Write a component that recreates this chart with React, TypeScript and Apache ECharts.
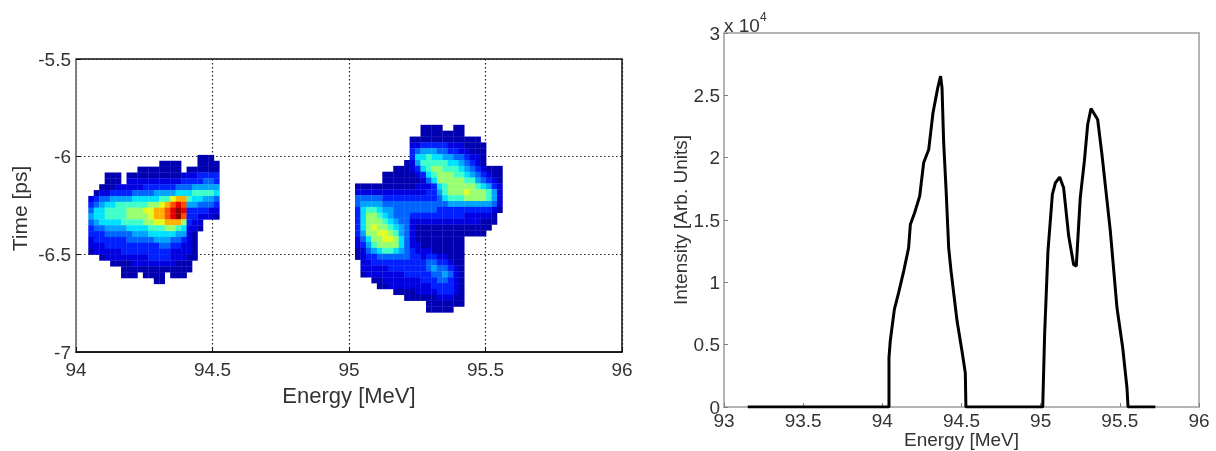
import React, { useEffect, useRef } from "react";
import * as echarts from "echarts";

const palette = ["#0000b0", "#0000e0", "#0020ff", "#0064ff", "#00a4ff", "#00e0ff", "#40ffc8", "#98ff70", "#e0ff20", "#ffb000", "#ff5000", "#e80000", "#900000"];

const blobAStartX = 94.055;
const blobAStartY = -6.006;
const blobARows = [
  "....................111.",
  ".............1111...1111",
  ".........11111111.111111",
  "...111.11111111112223333",
  "...111.22222222223333443",
  "..1112222233333344455555",
  ".12233334444555566677776",
  "234455556666677" + "9aa" + "766554",
  "34566777777889" + "abcb" + "554443",
  "466777788899" + "aabcdc" + "333322",
  "566777788889" + "aabcdb" + "332221",
  "456666777788" + "99aaa8" + "322...",
  "344555566667" + "778876" + "221...",
  "333444445556" + "666655" + "21....",
  "233333344444" + "555443" + "21....",
  "222333333333" + "344332" + "21....",
  "122222333333" + "333222" + "21....",
  "..122222222333322211....",
  "....111122222222111.....",
  "......1111111111111.....",
  "......111.1111.111......",
  "............11..........",
];

const blobBStartX = 95.032;
const blobBStartY = -5.852;
const blobBRows = [
  "............1111..11.......",
  "............11111111.......",
  "..........1111111111111....",
  "..........22333332221111...",
  "..........34555443322111...",
  "..........36676655443221...",
  ".........125777776654321...",
  ".......11123678877765432111",
  ".....1111112367888776543211",
  ".....1111111246888887754321",
  "1111111111122" + "23678888876532",
  "2222222222222" + "33578889888752",
  "4444433333333" + "33467778888752",
  "4555544444444" + "44445555555542",
  "3677655444444" + "44333333333321",
  "3688765444333" + "3333333222221.",
  "3688876544222" + "2222222222111.",
  "3689887654211" + "111111111111..",
  "3588998754211" + "11111111111...",
  "24688998642" + "111111111" + ".......",
  "23578888642" + "211111111" + ".......",
  "12456776543" + "222111111" + ".......",
  "12334444443" + "323322111" + ".......",
  ".2233333333" + "334433211" + ".......",
  ".2222233333" + "334544321" + ".......",
  ".1222222233" + "333445421" + ".......",
  "...11222222" + "233344321" + ".......",
  "....1122222" + "222333321" + ".......",
  ".......1111" + "222233321" + ".......",
  ".........11" + "111122211" + ".......",
  ".............1111111.......",
  ".............11111.........",
];

const spectrumEnergy = [93.15, 94.042, 94.042, 94.05, 94.076, 94.103, 94.135, 94.166, 94.177, 94.204, 94.236, 94.261, 94.293, 94.32, 94.35, 94.368, 94.377, 94.387, 94.404, 94.419, 94.434, 94.472, 94.503, 94.524, 94.528, 95.013, 95.025, 95.046, 95.074, 95.093, 95.12, 95.145, 95.177, 95.208, 95.225, 95.25, 95.276, 95.297, 95.318, 95.36, 95.387, 95.44, 95.482, 95.518, 95.545, 95.552, 95.724];
const spectrumIntensity = [0, 0, 0.396, 0.529, 0.783, 0.917, 1.09, 1.277, 1.464, 1.558, 1.692, 1.959, 2.066, 2.36, 2.56, 2.654, 2.56, 2.133, 1.705, 1.277, 1.09, 0.689, 0.449, 0.275, 0, 0, 0.583, 1.25, 1.705, 1.798, 1.844, 1.758, 1.371, 1.144, 1.13, 1.678, 1.972, 2.266, 2.394, 2.306, 2.026, 1.411, 0.796, 0.476, 0.155, 0, 0];

const cellW = 0.02;
const cellH = 0.03;

function cells(rows: string[], x0: number, y0: number) {
  const out: number[][] = [];
  rows.forEach((row, j) => {
    row.split("").forEach((ch, i) => {
      if (ch !== ".") out.push([x0 + i * cellW, y0 - j * cellH, parseInt(ch, 16)]);
    });
  });
  return out;
}

const font = "Liberation Sans";
const gray = "#808080";
const light = "#b4b4b4";
const ink = "#333";

export default function App() {
  const ref = useRef<HTMLDivElement>(null);
  useEffect(() => {
    const chart = echarts.init(ref.current!, undefined, { renderer: "svg" });
    chart.setOption({
      animation: false,
      backgroundColor: "#fff",
      grid: [
        { left: 76, top: 59, width: 546, height: 293, outerBoundsMode: "none", show: true, borderColor: "#111", borderWidth: 1.5 },
        { left: 724, top: 33, width: 475, height: 374, outerBoundsMode: "none", show: true, borderColor: light, borderWidth: 2 },
      ],
      xAxis: [
        {
          gridIndex: 0, type: "value", min: 94, max: 96, interval: 0.5,
          name: "Energy [MeV]", nameLocation: "middle", nameGap: 32, nameMoveOverlap: false,
          nameTextStyle: { fontFamily: font, fontSize: 22, color: ink },
          axisLine: { lineStyle: { color: "#111", width: 1.5 } },
          axisTick: { show: true, inside: true, length: 5, lineStyle: { color: "#111" } },
          axisLabel: { fontFamily: font, fontSize: 19, color: ink, margin: 8, formatter: (v: number) => String(v) },
          splitLine: { show: true, lineStyle: { color: "#222", type: [1.5, 2.5], width: 1.2 } },
        },
        {
          gridIndex: 1, type: "value", min: 93, max: 96, interval: 0.5,
          name: "Energy [MeV]", nameLocation: "middle", nameGap: 23, nameMoveOverlap: false,
          nameTextStyle: { fontFamily: font, fontSize: 19, color: ink },
          axisLine: { lineStyle: { color: light, width: 2 } },
          axisTick: { show: true, inside: true, length: 4, lineStyle: { color: gray } },
          axisLabel: { fontFamily: font, fontSize: 19, color: ink, margin: 4, formatter: (v: number) => String(v) },
          splitLine: { show: false },
        },
      ],
      yAxis: [
        {
          gridIndex: 0, type: "value", min: -7, max: -5.5, interval: 0.5,
          name: "Time [ps]", nameLocation: "middle", nameGap: 46, nameMoveOverlap: false,
          nameTextStyle: { fontFamily: font, fontSize: 21, color: ink, padding: [0, 6, 0, 0] },
          axisLine: { lineStyle: { color: gray, width: 2 } },
          axisTick: { show: true, inside: true, length: 5, lineStyle: { color: "#111" } },
          axisLabel: { fontFamily: font, fontSize: 19, color: ink, margin: 5, formatter: (v: number) => String(v) },
          splitLine: { show: true, lineStyle: { color: "#222", type: [1.5, 2.5], width: 1.2 } },
        },
        {
          gridIndex: 1, type: "value", min: 0, max: 3, interval: 0.5,
          name: "Intensity [Arb. Units]", nameLocation: "middle", nameGap: 34, nameMoveOverlap: false,
          nameTextStyle: { fontFamily: font, fontSize: 19, color: ink },
          axisLine: { lineStyle: { color: light, width: 2 } },
          axisTick: { show: true, inside: true, length: 4, lineStyle: { color: gray } },
          axisLabel: { fontFamily: font, fontSize: 19, color: ink, margin: 4, formatter: (v: number) => String(v) },
          splitLine: { show: false },
        },
      ],
      series: [
        {
          type: "custom",
          xAxisIndex: 0,
          yAxisIndex: 0,
          encode: { x: 0, y: 1 },
          data: [...cells(blobARows, blobAStartX, blobAStartY), ...cells(blobBRows, blobBStartX, blobBStartY)],
          renderItem: (_: any, api: any) => {
            const x = api.value(0), y = api.value(1);
            const a = api.coord([x - cellW / 2, y + cellH / 2]);
            const b = api.coord([x + cellW / 2, y - cellH / 2]);
            return {
              type: "rect",
              shape: { x: a[0], y: a[1], width: b[0] - a[0] + 0.3, height: b[1] - a[1] + 0.3 },
              style: { fill: palette[api.value(2) - 1] },
            };
          },
          z: 3,
        },
        {
          type: "line",
          xAxisIndex: 1,
          yAxisIndex: 1,
          data: spectrumEnergy.map((e, i) => [e, spectrumIntensity[i]]),
          showSymbol: false,
          lineStyle: { color: "#000", width: 3 },
          z: 3,
        },
      ],
      graphic: [
        { type: "text", x: 724, y: 16, style: { text: "x 10", font: `19px "${font}"`, fill: ink } },
        { type: "text", x: 760, y: 11, style: { text: "4", font: `12px "${font}"`, fill: ink } },
      ],
    });
    return () => chart.dispose();
  }, []);
  return <div ref={ref} style={{ position: "absolute", left: 0, top: 0, width: 1216, height: 451, filter: "blur(0.7px)" }} />;
}
